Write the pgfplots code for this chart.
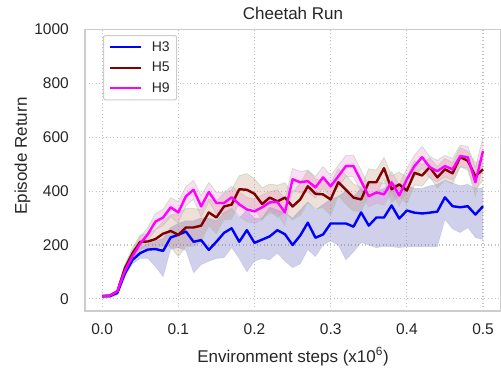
\documentclass[border=0pt]{standalone}
\usepackage{fontspec}
\setmainfont{Liberation Sans}
\usepackage{pgfplots}
\usepackage{pgfplotstable}
\pgfplotsset{compat=1.18}
\usepgfplotslibrary{fillbetween}

\definecolor{txt}{RGB}{38,38,38}
\definecolor{gridc}{RGB}{195,195,195}
\definecolor{spine}{RGB}{204,204,204}
\definecolor{cH3}{RGB}{0,0,255}
\definecolor{cH5}{RGB}{128,0,0}
\definecolor{cH9}{RGB}{255,0,255}
\definecolor{bH3}{RGB}{100,100,190}
\definecolor{bH5}{RGB}{180,100,70}
\definecolor{bH9}{RGB}{240,100,200}
\definecolor{edge}{RGB}{160,205,165}

\pgfplotstableread{
x m lo hi
0.00 10 5 15
0.01 10 5 15
0.02 22 15 30
0.03 95 85 110
0.04 145 130 165
0.05 170 150 190
0.06 183 150 205
0.07 185 120 215
0.08 178 82 225
0.09 228 185 265
0.10 238 190 280
0.11 250 180 290
0.12 212 97 290
0.13 218 127 300
0.14 182 140 300
0.15 212 150 290
0.16 245 153 320
0.17 262 190 335
0.18 212 150 300
0.19 255 100 330
0.20 208 140 300
0.21 220 150 300
0.22 232 145 340
0.23 255 170 330
0.24 240 140 320
0.25 200 116 300
0.26 235 130 330
0.27 283 183 360
0.28 227 157 330
0.29 239 200 350
0.30 280 215 370
0.31 280 200 380
0.32 280 145 400
0.33 268 175 380
0.34 321 209 410
0.35 272 200 380
0.36 302 190 400
0.37 302 195 410
0.38 347 194 430
0.39 298 190 420
0.40 328 194 420
0.41 320 194 410
0.42 317 194 410
0.43 320 194 420
0.44 324 194 425
0.45 377 295 440
0.46 344 260 430
0.47 340 246 420
0.48 344 265 425
0.49 313 228 410
0.50 344 220 410
}\tHthree

\pgfplotstableread{
x m lo hi
0.00 10 7 13
0.01 12 9 15
0.02 28 23 33
0.03 115 100 130
0.04 170 150 190
0.05 212 187 237
0.06 213 183 243
0.07 222 187 257
0.08 242 197 287
0.09 252 192 312
0.10 238 158 318
0.11 265 195 335
0.12 265 195 335
0.13 272 212 332
0.14 321 271 371
0.15 302 242 362
0.16 343 293 393
0.17 350 295 405
0.18 407 357 457
0.19 405 345 465
0.20 390 335 445
0.21 352 292 412
0.22 376 326 426
0.23 362 302 422
0.24 376 321 431
0.25 343 293 393
0.26 369 309 429
0.27 418 358 478
0.28 390 335 445
0.29 388 338 438
0.30 369 309 429
0.31 433 383 483
0.32 405 350 460
0.33 376 326 426
0.34 369 324 414
0.35 433 383 483
0.36 433 388 478
0.37 485 445 525
0.38 407 357 457
0.39 425 380 470
0.40 402 352 452
0.41 468 423 513
0.42 458 418 498
0.43 489 454 524
0.44 451 411 491
0.45 481 441 521
0.46 466 426 506
0.47 526 491 561
0.48 513 478 548
0.49 455 405 505
0.50 481 441 521
}\tHfive

\pgfplotstableread{
x m lo hi
0.00 10 7 13
0.01 12 9 15
0.02 28 23 33
0.03 105 90 120
0.04 160 140 180
0.05 205 180 230
0.06 240 215 265
0.07 287 257 317
0.08 302 272 332
0.09 340 305 375
0.10 321 281 361
0.11 381 346 416
0.12 405 370 440
0.13 343 303 383
0.14 397 362 432
0.15 356 316 396
0.16 356 316 396
0.17 377 337 417
0.18 351 306 396
0.19 332 287 377
0.20 325 280 370
0.21 340 295 385
0.22 358 318 398
0.23 360 315 405
0.24 321 271 371
0.25 444 404 484
0.26 433 393 473
0.27 437 397 477
0.28 414 374 454
0.29 451 411 491
0.30 418 378 458
0.31 455 415 495
0.32 493 453 533
0.33 493 453 533
0.34 437 397 477
0.35 381 341 421
0.36 395 355 435
0.37 388 348 428
0.38 433 393 473
0.39 384 344 424
0.40 444 404 484
0.41 493 453 533
0.42 526 486 566
0.43 489 449 529
0.44 474 434 514
0.45 493 453 533
0.46 481 441 521
0.47 530 490 570
0.48 526 486 566
0.49 433 378 488
0.50 549 499 599
}\tHnine

\begin{document}
\begin{tikzpicture}
\begin{axis}[
  scale only axis, width=416bp, height=281.5bp,
  xmin=-0.0225, xmax=0.5236, ymin=-45, ymax=1000,
  xtick={0,0.1,0.2,0.3,0.4,0.5},
  xticklabels={0.0,0.1,0.2,0.3,0.4,0.5},
  ytick={0,200,400,600,800,1000},
  yticklabels={0,200,400,600,800,1000},
  grid=major,
  major grid style={draw=gridc, line width=1.1bp, dash pattern=on 1.3bp off 2.2bp},
  axis line style={draw=spine, line width=1.8bp},
  major tick length=0pt,
  tick style={draw=none},
  ticklabel style={font=\fontsize{15.5bp}{18bp}\selectfont, text=txt},
  xticklabel style={anchor=base, yshift=-23bp, inner sep=0pt},
  yticklabel style={anchor=east, xshift=-16bp, inner sep=0pt},
  title={Cheetah Run},
  title style={font=\fontsize{17bp}{20bp}\selectfont, text=txt, at={(axis description cs:0.5,1)}, anchor=base, yshift=4bp},
  xlabel={Environment steps (x10\textsuperscript{6})},
  xlabel style={font=\fontsize{17bp}{20bp}\selectfont, text=txt, at={(axis description cs:0.5,0)}, anchor=base, yshift=-51bp},
  ylabel={Episode Return},
  ylabel style={font=\fontsize{17bp}{20bp}\selectfont, text=txt, at={(axis description cs:0,0.5506)}, anchor=base, yshift=58bp},
  legend style={at={(axis description cs:0.0433,0.98)}, anchor=north west,
    draw=spine, line width=1bp, rounded corners=2bp, fill=white, fill opacity=0.85, text opacity=1,
    font=\fontsize{14bp}{16bp}\selectfont, text=txt, inner xsep=5bp, inner ysep=4bp,
    row sep=5.3bp, /tikz/every odd column/.append style={column sep=8bp}},
  legend cell align=left,
  legend image code/.code={\draw[#1, line width=2.3bp] (0bp,0bp) -- (31bp,0bp);},
  every axis plot/.append style={line join=round},
]
% bands
\addplot[name path=h3lo, draw=bH3, draw opacity=0.15, line width=0.8bp, forget plot] table[x=x,y=lo]{\tHthree};
\addplot[name path=h3hi, draw=bH3, draw opacity=0.15, line width=0.8bp, forget plot] table[x=x,y=hi]{\tHthree};
\addplot[fill=bH3, fill opacity=0.3, draw=none, forget plot] fill between[of=h3lo and h3hi];

\addplot[name path=h5lo, draw=edge, draw opacity=0.5, line width=0.8bp, forget plot] table[x=x,y=lo]{\tHfive};
\addplot[name path=h5hi, draw=edge, draw opacity=0.5, line width=0.8bp, forget plot] table[x=x,y=hi]{\tHfive};
\addplot[fill=bH5, fill opacity=0.2, draw=none, forget plot] fill between[of=h5lo and h5hi];

\addplot[name path=h9lo, draw=edge, draw opacity=0.5, line width=0.8bp, forget plot] table[x=x,y=lo]{\tHnine};
\addplot[name path=h9hi, draw=edge, draw opacity=0.5, line width=0.8bp, forget plot] table[x=x,y=hi]{\tHnine};
\addplot[fill=bH9, fill opacity=0.22, draw=none, forget plot] fill between[of=h9lo and h9hi];

% means
\addplot[cH3, line width=2.4bp] table[x=x,y=m]{\tHthree};
\addlegendentry{H3}
\addplot[cH5, line width=2.4bp] table[x=x,y=m]{\tHfive};
\addlegendentry{H5}
\addplot[cH9, line width=2.4bp] table[x=x,y=m]{\tHnine};
\addlegendentry{H9}
\end{axis}
\pgfresetboundingbox
\path[use as bounding box] ([xshift=-85bp,yshift=-58bp]current axis.south west) rectangle ++(501bp,369bp);
\end{tikzpicture}
\end{document}
